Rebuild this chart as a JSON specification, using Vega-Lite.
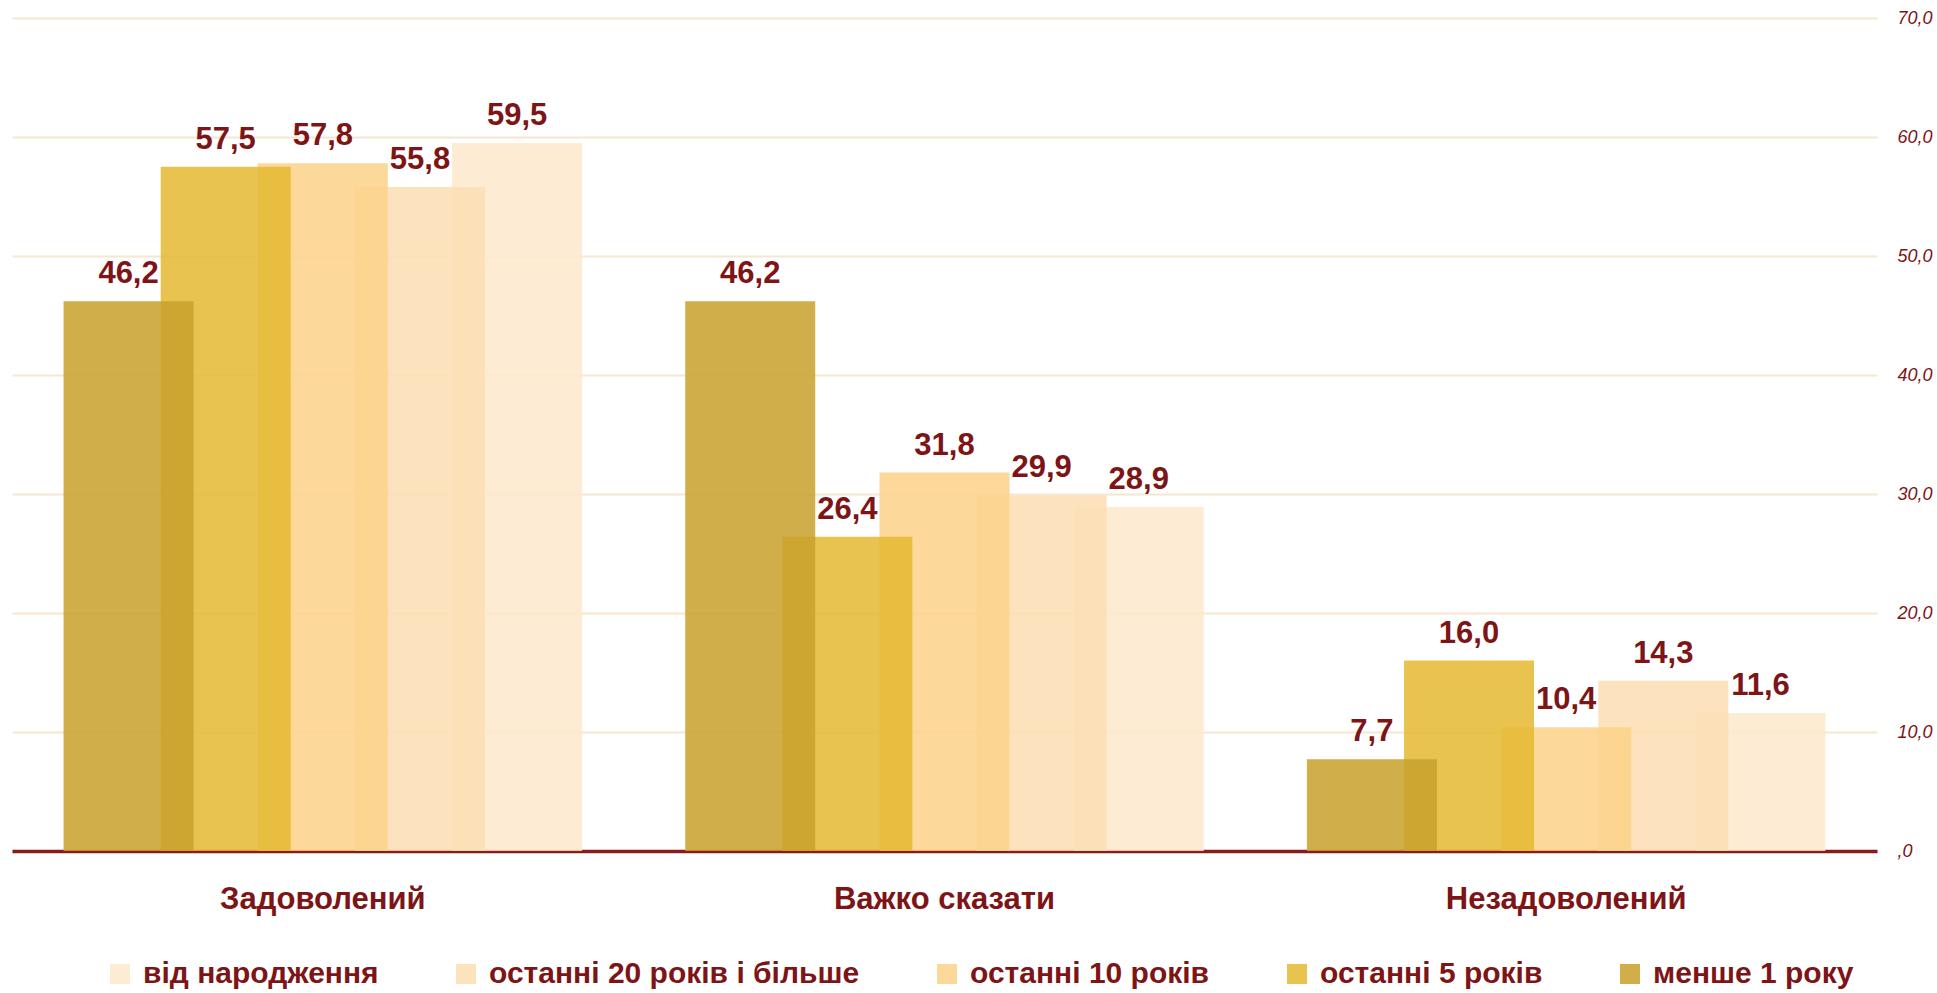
{
  "$schema": "https://vega.github.io/schema/vega-lite/v6.json",
  "width": 1865,
  "height": 833,
  "autosize": {"type": "none"},
  "padding": {"left": 12, "top": 18, "right": 60, "bottom": 142},
  "background": "white",
  "config": {"view": {"stroke": null}, "font": "Liberation Sans"},
  "data": {
    "values": [
      {"category": "Задоволений", "group": "від народження", "value": 59.5},
      {"category": "Задоволений", "group": "останні 20 років і більше", "value": 55.8},
      {"category": "Задоволений", "group": "останні 10 років", "value": 57.8},
      {"category": "Задоволений", "group": "останні 5 років", "value": 57.5},
      {"category": "Задоволений", "group": "менше 1 року", "value": 46.2},
      {"category": "Важко сказати", "group": "від народження", "value": 28.9},
      {"category": "Важко сказати", "group": "останні 20 років і більше", "value": 29.9},
      {"category": "Важко сказати", "group": "останні 10 років", "value": 31.8},
      {"category": "Важко сказати", "group": "останні 5 років", "value": 26.4},
      {"category": "Важко сказати", "group": "менше 1 року", "value": 46.2},
      {"category": "Незадоволений", "group": "від народження", "value": 11.6},
      {"category": "Незадоволений", "group": "останні 20 років і більше", "value": 14.3},
      {"category": "Незадоволений", "group": "останні 10 років", "value": 10.4},
      {"category": "Незадоволений", "group": "останні 5 років", "value": 16.0},
      {"category": "Незадоволений", "group": "менше 1 року", "value": 7.7}
    ]
  },
  "encoding": {
    "x": {
      "field": "category",
      "type": "nominal",
      "sort": ["Задоволений", "Важко сказати", "Незадоволений"],
      "scale": {"paddingInner": 0, "paddingOuter": 0},
      "axis": {
        "title": null,
        "orient": "bottom",
        "labelAngle": 0,
        "ticks": false,
        "domainColor": "#8B1A1A",
        "domainWidth": 3.5,
        "labelFontSize": 31,
        "labelFontWeight": "bold",
        "labelColor": "#7D1517",
        "labelPadding": 33,
        "labelLimit": 600,
        "grid": false
      }
    },
    "xOffset": {
      "field": "group",
      "type": "nominal",
      "scale": {
        "domain": ["менше 1 року", "останні 5 років", "останні 10 років", "останні 20 років і більше", "від народження"],
        "paddingInner": 0,
        "paddingOuter": 0.7
      }
    },
    "y": {
      "field": "value",
      "type": "quantitative",
      "stack": null,
      "scale": {"domain": [0, 70], "nice": false},
      "axis": {
        "orient": "right",
        "title": null,
        "values": [0, 10, 20, 30, 40, 50, 60, 70],
        "domain": false,
        "ticks": false,
        "gridColor": "#F7E6D0",
        "gridWidth": 2,
        "labelFontSize": 18,
        "labelFontStyle": "italic",
        "labelColor": "#7D1517",
        "labelPadding": 20,
        "labelExpr": "datum.value === 0 ? ',0' : replace(format(datum.value, '.1f'), '.', ',')"
      }
    }
  },
  "layer": [
    {
      "mark": {"type": "bar", "width": 130, "opacity": 0.85},
      "encoding": {
        "color": {
          "field": "group",
          "type": "nominal",
          "scale": {
            "domain": ["від народження", "останні 20 років і більше", "останні 10 років", "останні 5 років", "менше 1 року"],
            "range": ["#FEE7CC", "#FBDEB1", "#FCD289", "#E4B930", "#C8A12C"]
          },
          "legend": {
            "orient": "none",
            "legendX": 93,
            "legendY": 941,
            "direction": "horizontal",
            "title": null,
            "symbolType": "square",
            "symbolSize": 400,
            "symbolStrokeWidth": 0,
            "symbolOpacity": 0.85,
            "labelFontSize": 30,
            "labelFontWeight": "bold",
            "labelColor": "#7D1517",
            "labelLimit": 600,
            "labelOffset": 8,
            "columnPadding": 72
          }
        }
      }
    },
    {
      "mark": {
        "type": "text",
        "dy": -18,
        "baseline": "alphabetic",
        "fontSize": 31,
        "fontWeight": "bold",
        "color": "#7D1517",
        "text": {"expr": "replace(format(datum.value, '.1f'), '.', ',')"}
      }
    }
  ]
}
